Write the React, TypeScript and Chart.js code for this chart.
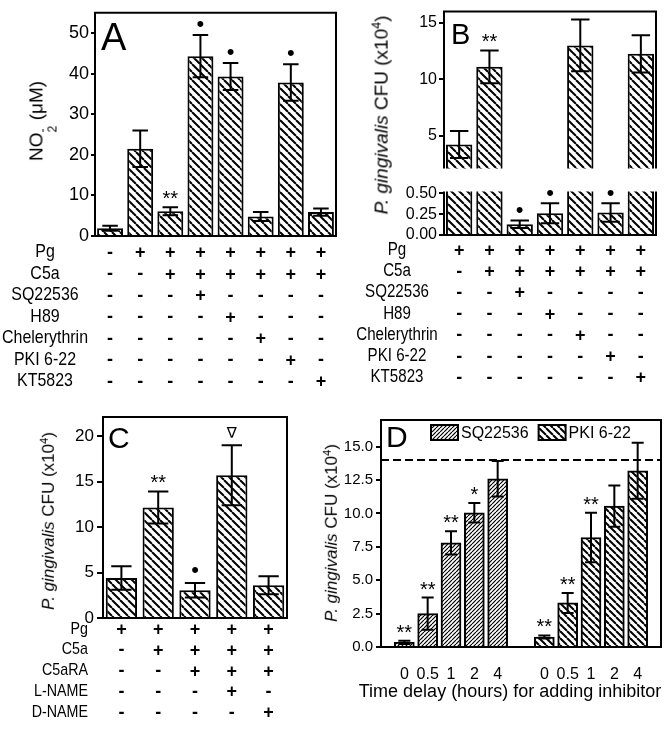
import React, { useEffect, useRef } from 'react';
import { Chart, registerables } from 'chart.js';

Chart.register(...registerables);

const FONT = "'Liberation Sans', Arial, Helvetica, sans-serif";

// ---------------- Panel A ----------------
const A_GROUPS = ['1', '2', '3', '4', '5', '6', '7', '8'];
const A_VALUES = [1.9, 21.5, 6.1, 44.3, 39.3, 4.8, 37.8, 5.9];
const A_ERRORS = [0.6, 4.5, 1.0, 5.2, 3.3, 1.1, 4.5, 0.9];
const A_MARKS = ['', '', '**', '•', '•', '', '•', ''];
const A_Y_TICKS = [0, 10, 20, 30, 40, 50];
const A_ROW_LABELS = ['Pg', 'C5a', 'SQ22536', 'H89', 'Chelerythrin', 'PKI 6-22', 'KT5823'];
const A_ROW_SIGNS = ['-+++++++', '--++++++', '---+----', '----+---', '-----+--', '------+-', '-------+'];

// ---------------- Panel B ----------------
const B_GROUPS = ['1', '2', '3', '4', '5', '6', '7'];
const B_VALUES = [4.2, 11.1, 0.13, 0.26, 13.0, 0.27, 12.25];
const B_ERRORS = [1.2, 1.45, 0.045, 0.12, 2.3, 0.11, 1.65];
const B_MARKS = ['', '**', '•', '•', '', '•', ''];
const B_UPPER_TICKS = [5, 10, 15];
const B_LOWER_TICKS = [0, 0.25, 0.5];
const B_ROW_LABELS = ['Pg', 'C5a', 'SQ22536', 'H89', 'Chelerythrin', 'PKI 6-22', 'KT5823'];
const B_ROW_SIGNS = ['+++++++', '-++++++', '--+----', '---+---', '----+--', '-----+-', '------+'];

// ---------------- Panel C ----------------
const C_GROUPS = ['1', '2', '3', '4', '5'];
const C_VALUES = [4.4, 12.15, 3.05, 15.7, 3.6];
const C_ERRORS = [1.3, 1.75, 0.8, 3.3, 1.0];
const C_MARKS = ['', '**', '•', '∇', ''];
const C_Y_TICKS = [0, 5, 10, 15, 20];
const C_ROW_LABELS = ['Pg', 'C5a', 'C5aRA', 'L-NAME', 'D-NAME'];
const C_ROW_SIGNS = ['+++++', '-++++', '--+++', '---+-', '----+'];

// ---------------- Panel D ----------------
const D_LABELS = ['', '0', '0.5', '1', '2', '4', '', '0', '0.5', '1', '2', '4', ''];
const D_SERIES = ['SQ22536', 'PKI 6-22'];
const D_SQ_VALUES = [null, 0.35, 2.5, 7.8, 10.05, 12.6, null, null, null, null, null, null, null];
const D_SQ_ERRORS = [0, 0.12, 1.2, 0.87, 0.73, 1.33, 0, 0, 0, 0, 0, 0, 0];
const D_SQ_MARKS = ['', '**', '**', '**', '*', '', '', '', '', '', '', '', ''];
const D_PKI_VALUES = [null, null, null, null, null, null, null, 0.75, 3.3, 8.2, 10.55, 13.2, null];
const D_PKI_ERRORS = [0, 0, 0, 0, 0, 0, 0, 0.12, 0.75, 1.85, 1.55, 2.1, 0];
const D_PKI_MARKS = ['', '', '', '', '', '', '', '**', '**', '**', '', '', ''];
const D_Y_TICKS = [0, 2.5, 5, 7.5, 10, 12.5, 15];
const D_REFERENCE = 14;
const D_X_TITLE = 'Time delay (hours) for adding inhibitor';

// ------------------------------------------------
function makeHatch(dir: 'back' | 'fwd', period: number, lw: number): CanvasPattern {
  const c = document.createElement('canvas');
  c.width = period;
  c.height = period;
  const g = c.getContext('2d') as CanvasRenderingContext2D;
  g.fillStyle = '#fff';
  g.fillRect(0, 0, period, period);
  g.strokeStyle = '#000';
  g.lineWidth = lw;
  for (const k of [-period, 0, period]) {
    g.beginPath();
    if (dir === 'back') {
      g.moveTo(k, 0);
      g.lineTo(k + period, period);
    } else {
      g.moveTo(k, period);
      g.lineTo(k + period, 0);
    }
    g.stroke();
  }
  return g.createPattern(c, 'repeat') as CanvasPattern;
}

function centeredText(ctx: CanvasRenderingContext2D, text: string, cx: number, cy: number, font: string) {
  ctx.font = font;
  const m = ctx.measureText(text);
  const asc = m.actualBoundingBoxAscent;
  const desc = m.actualBoundingBoxDescent;
  ctx.textAlign = 'center';
  ctx.textBaseline = 'alphabetic';
  ctx.fillText(text, cx, cy + (asc - desc) / 2);
}

function markFont(m: string) {
  if (m === '•') return `22px ${FONT}`;
  if (m === '∇') return `15px 'DejaVu Sans', ${FONT}`;
  return `20px ${FONT}`;
}

function panelPlugin(cfg: any) {
  return {
    id: 'panelDecor',
    afterDatasetsDraw(chart: any) {
      const ctx: CanvasRenderingContext2D = chart.ctx;
      const a = chart.chartArea;
      const ys = chart.scales.y;
      if (cfg.refLine != null) {
        const y = ys.getPixelForValue(cfg.refLine);
        ctx.save();
        ctx.strokeStyle = '#000';
        ctx.lineWidth = 2;
        ctx.setLineDash([8, 4]);
        ctx.beginPath();
        ctx.moveTo(a.left, y);
        ctx.lineTo(a.right, y);
        ctx.stroke();
        ctx.restore();
      }
      chart.data.datasets.forEach((ds: any, i: number) => {
        const meta = chart.getDatasetMeta(i);
        meta.data.forEach((el: any, j: number) => {
          const v = ds.data[j];
          if (v == null) return;
          const e = (ds.errors && ds.errors[j]) || 0;
          const hi = v + e;
          const lo = v - e;
          const x = el.x;
          const half = (el.width * cfg.capRatio) / 2;
          const yt = ys.getPixelForValue(hi);
          const yb = ys.getPixelForValue(lo);
          ctx.save();
          ctx.beginPath();
          ctx.rect(a.left, a.top, a.right - a.left, a.bottom - a.top);
          ctx.clip();
          ctx.strokeStyle = '#000';
          ctx.lineWidth = 2;
          ctx.beginPath();
          ctx.moveTo(x, yt);
          ctx.lineTo(x, yb);
          ctx.moveTo(x - half, yt);
          ctx.lineTo(x + half, yt);
          ctx.moveTo(x - half, yb);
          ctx.lineTo(x + half, yb);
          ctx.stroke();
          ctx.restore();
          const m = ds.marks ? ds.marks[j] : '';
          if (m && hi >= ys.min && hi <= ys.max) {
            ctx.save();
            ctx.fillStyle = '#000';
            centeredText(ctx, m, x, yt - cfg.markGap, markFont(m));
            ctx.restore();
          }
        });
      });
    },
    afterDraw(chart: any) {
      const ctx: CanvasRenderingContext2D = chart.ctx;
      const a = chart.chartArea;
      ctx.save();
      ctx.strokeStyle = '#000';
      ctx.lineWidth = 2;
      ctx.lineJoin = 'miter';
      ctx.beginPath();
      if (cfg.box.top && cfg.box.bottom) {
        ctx.rect(a.left, a.top, a.right - a.left, a.bottom - a.top);
      } else if (cfg.box.top) {
        ctx.moveTo(a.left, a.bottom);
        ctx.lineTo(a.left, a.top);
        ctx.lineTo(a.right, a.top);
        ctx.lineTo(a.right, a.bottom);
      } else {
        ctx.moveTo(a.left, a.top);
        ctx.lineTo(a.left, a.bottom);
        ctx.lineTo(a.right, a.bottom);
        ctx.lineTo(a.right, a.top);
      }
      ctx.stroke();
      ctx.fillStyle = '#000';
      if (cfg.letter) {
        ctx.font = `${cfg.letter.size}px ${FONT}`;
        ctx.textAlign = 'left';
        ctx.textBaseline = 'alphabetic';
        ctx.fillText(cfg.letter.text, a.left + cfg.letter.dx, a.top + cfg.letter.dy);
      }
      if (cfg.legend) {
        const L = cfg.legend;
        let cx = a.left + L.x;
        const top = a.top + L.y;
        chart.data.datasets.forEach((ds: any) => {
          ctx.fillStyle = ds.backgroundColor;
          ctx.fillRect(cx, top, L.w, L.h);
          ctx.strokeStyle = '#000';
          ctx.lineWidth = 2;
          ctx.strokeRect(cx, top, L.w, L.h);
          ctx.fillStyle = '#000';
          ctx.font = `${L.size}px ${FONT}`;
          ctx.textAlign = 'left';
          ctx.textBaseline = 'middle';
          ctx.fillText(ds.label, cx + L.w + 3, top + L.h / 2 + 1);
          cx += L.w + 3 + ctx.measureText(ds.label).width + L.gap;
        });
      }
      if (cfg.table) {
        const T = cfg.table;
        const xs = chart.scales.x;
        T.labels.forEach((label: string, r: number) => {
          const y = T.y0 + r * T.dy;
          ctx.save();
          ctx.translate(T.labelX, y);
          ctx.scale(T.squeeze, 1);
          ctx.font = `${T.labelSize}px ${FONT}`;
          ctx.textAlign = T.align;
          ctx.textBaseline = 'middle';
          ctx.fillText(label, 0, 0);
          ctx.restore();
          T.signs[r].split('').forEach((s: string, j: number) => {
            centeredText(ctx, s, xs.getPixelForValue(j), y, `bold ${T.signSize}px ${FONT}`);
          });
        });
      }
      if (cfg.xTitle) {
        ctx.font = `${cfg.xTitle.size}px ${FONT}`;
        ctx.textAlign = 'center';
        ctx.textBaseline = 'middle';
        ctx.fillText(cfg.xTitle.text, cfg.xTitle.x, a.bottom + cfg.xTitle.dy);
      }
      ctx.restore();
    },
  };
}

function yAxis(min: number, max: number, ticks: number[], width: number, tickLen: number, pad: number, size: number, fmt: (v: number) => string) {
  return {
    type: 'linear',
    min,
    max,
    afterFit: (s: any) => {
      s.width = width;
    },
    afterBuildTicks: (s: any) => {
      s.ticks = ticks.map((v) => ({ value: v }));
    },
    grid: { display: true, drawOnChartArea: false, drawTicks: true, tickLength: tickLen, color: '#000', lineWidth: 2 },
    border: { display: false },
    ticks: { color: '#000', padding: pad, font: { family: FONT, size }, callback: (v: any) => fmt(Number(v)) },
  };
}

const baseOptions = (padding: any) => ({
  animation: false,
  responsive: false,
  devicePixelRatio: 1,
  events: [],
  layout: { padding },
  plugins: { legend: { display: false }, tooltip: { enabled: false } },
});

function barSet(values: any[], errors: number[], marks: string[], pattern: CanvasPattern, pct: number, label = '') {
  return {
    label,
    data: values,
    errors,
    marks,
    backgroundColor: pattern,
    borderColor: '#000',
    borderWidth: 2,
    barPercentage: pct,
    categoryPercentage: 1,
    clip: 0,
  };
}

function buildA(canvas: HTMLCanvasElement) {
  const hatch = makeHatch('back', 8, 2);
  return new Chart(canvas, {
    type: 'bar',
    data: { labels: A_GROUPS, datasets: [barSet(A_VALUES, A_ERRORS, A_MARKS, hatch, 0.86) as any] },
    options: {
      ...baseOptions({ left: 0, right: 4, top: 10, bottom: 164 }),
      scales: {
        x: { type: 'category', display: false, offset: true },
        y: yAxis(0, 55, A_Y_TICKS, 95, 4, 2, 18, (v) => String(v)),
      },
    } as any,
    plugins: [
      panelPlugin({
        box: { top: true, bottom: true },
        capRatio: 0.6,
        markGap: 12,
        letter: { text: 'A', size: 38, dx: 6, dy: 37 },
        table: { labels: A_ROW_LABELS, signs: A_ROW_SIGNS, y0: 252, dy: 21.5, labelX: 45, align: 'center', squeeze: 0.84, labelSize: 19, signSize: 18 },
      }),
    ],
  });
}

function buildBUpper(canvas: HTMLCanvasElement) {
  const hatch = makeHatch('back', 8, 2);
  return new Chart(canvas, {
    type: 'bar',
    data: { labels: B_GROUPS, datasets: [barSet(B_VALUES, B_ERRORS, B_MARKS, hatch, 0.87) as any] },
    options: {
      ...baseOptions({ left: 0, right: 16, top: 8, bottom: 5 }),
      scales: {
        x: { type: 'category', display: false, offset: true },
        y: yAxis(2.08, 16, B_UPPER_TICKS, 108, 5, 2, 16, (v) => String(v)),
      },
    } as any,
    plugins: [
      panelPlugin({
        box: { top: true, bottom: false },
        capRatio: 0.7,
        markGap: 12,
        letter: { text: 'B', size: 29, dx: 7, dy: 32 },
      }),
    ],
  });
}

function buildBLower(canvas: HTMLCanvasElement) {
  const hatch = makeHatch('back', 8, 2);
  return new Chart(canvas, {
    type: 'bar',
    data: { labels: B_GROUPS, datasets: [barSet(B_VALUES, B_ERRORS, B_MARKS, hatch, 0.87) as any] },
    options: {
      ...baseOptions({ left: 0, right: 16, top: 8, bottom: 165 }),
      scales: {
        x: { type: 'category', display: false, offset: true },
        y: yAxis(0, 0.52, B_LOWER_TICKS, 108, 5, 2, 16, (v) => v.toFixed(2)),
      },
    } as any,
    plugins: [
      panelPlugin({
        box: { top: false, bottom: true },
        capRatio: 0.7,
        markGap: 11,
        table: { labels: B_ROW_LABELS, signs: B_ROW_SIGNS, y0: 70, dy: 21.2, labelX: 61, align: 'center', squeeze: 0.84, labelSize: 18, signSize: 18 },
      }),
    ],
  });
}

function buildC(canvas: HTMLCanvasElement) {
  const hatch = makeHatch('back', 8, 2);
  return new Chart(canvas, {
    type: 'bar',
    data: { labels: C_GROUPS, datasets: [barSet(C_VALUES, C_ERRORS, C_MARKS, hatch, 0.85) as any] },
    options: {
      ...baseOptions({ left: 0, right: 49, top: 17, bottom: 114 }),
      scales: {
        x: { type: 'category', display: false, offset: true },
        y: yAxis(0, 22.1, C_Y_TICKS, 103, 6, 3, 17, (v) => String(v)),
      },
    } as any,
    plugins: [
      panelPlugin({
        box: { top: true, bottom: true },
        capRatio: 0.65,
        markGap: 13,
        letter: { text: 'C', size: 30, dx: 5, dy: 31 },
        table: { labels: C_ROW_LABELS, signs: C_ROW_SIGNS, y0: 229, dy: 20.8, labelX: 88, align: 'right', squeeze: 0.84, labelSize: 17, signSize: 18 },
      }),
    ],
  });
}

function buildD(canvas: HTMLCanvasElement) {
  const fine = makeHatch('fwd', 4, 1.2);
  const coarse = makeHatch('back', 7, 2);
  const common = { borderColor: '#000', borderWidth: 2, barThickness: 20, grouped: false, clip: 0 };
  return new Chart(canvas, {
    type: 'bar',
    data: {
      labels: D_LABELS,
      datasets: [
        { label: D_SERIES[0], data: D_SQ_VALUES, errors: D_SQ_ERRORS, marks: D_SQ_MARKS, backgroundColor: fine, ...common } as any,
        { label: D_SERIES[1], data: D_PKI_VALUES, errors: D_PKI_ERRORS, marks: D_PKI_MARKS, backgroundColor: coarse, ...common } as any,
      ],
    },
    options: {
      ...baseOptions({ left: 0, right: 11, top: 20, bottom: 0 }),
      scales: {
        x: {
          type: 'category',
          offset: false,
          afterFit: (s: any) => {
            s.height = 85;
          },
          grid: { display: false },
          border: { display: false },
          ticks: { autoSkip: false, maxRotation: 0, padding: 10, color: '#000', font: { family: FONT, size: 16 } },
        },
        y: yAxis(0, 17, D_Y_TICKS, 45, 5, 3, 15, (v) => v.toFixed(1)),
      },
    } as any,
    plugins: [
      panelPlugin({
        box: { top: true, bottom: true },
        capRatio: 0.6,
        markGap: 12,
        refLine: D_REFERENCE,
        letter: { text: 'D', size: 30, dx: 5, dy: 27 },
        legend: { x: 50, y: 5, w: 27, h: 15, gap: 10, size: 16 },
        xTitle: { text: D_X_TITLE, x: 174, dy: 45, size: 18 },
      }),
    ],
  });
}

function PanelCanvas({ left, top, width, height, build }: { left: number; top: number; width: number; height: number; build: (c: HTMLCanvasElement) => Chart }) {
  const ref = useRef<HTMLCanvasElement>(null);
  useEffect(() => {
    const chart = build(ref.current as HTMLCanvasElement);
    return () => chart.destroy();
  }, []);
  return <canvas ref={ref} width={width} height={height} style={{ position: 'absolute', left, top, width, height }} />;
}

function YTitle({ cx, cy, size, children }: { cx: number; cy: number; size: number; children: any }) {
  return (
    <div
      style={{
        position: 'absolute',
        left: cx,
        top: cy,
        transform: 'translate(-50%, -50%) rotate(-90deg)',
        whiteSpace: 'nowrap',
        fontFamily: FONT,
        fontSize: size,
        lineHeight: 1.2,
        color: '#000',
      }}
    >
      {children}
    </div>
  );
}

const CfuTitle = () => (
  <>
    <i>P. gingivalis</i> CFU (x10<sup style={{ fontSize: '0.65em', verticalAlign: '0.55em', lineHeight: 0 }}>4</sup>)
  </>
);

export default function App() {
  return (
    <div style={{ position: 'absolute', left: 0, top: 0, width: 672, height: 732, background: '#fff', overflow: 'hidden' }}>
      <PanelCanvas left={0} top={0} width={340} height={400} build={buildA} />
      <PanelCanvas left={336} top={0} width={336} height={180} build={buildBUpper} />
      <PanelCanvas left={336} top={180} width={336} height={220} build={buildBLower} />
      <PanelCanvas left={0} top={400} width={336} height={332} build={buildC} />
      <PanelCanvas left={336} top={400} width={336} height={332} build={buildD} />
      <YTitle cx={42} cy={121} size={19}>
        NO
        <span style={{ display: 'inline-flex', flexDirection: 'column', fontSize: '0.65em', lineHeight: 0.8, verticalAlign: '-0.35em' }}>
          <span>-</span>
          <span>2</span>
        </span>{' '}
        (μM)
      </YTitle>
      <YTitle cx={382} cy={115} size={19}>
        <CfuTitle />
      </YTitle>
      <YTitle cx={49} cy={521} size={17}>
        <CfuTitle />
      </YTitle>
      <YTitle cx={332} cy={533} size={17}>
        <CfuTitle />
      </YTitle>
    </div>
  );
}
